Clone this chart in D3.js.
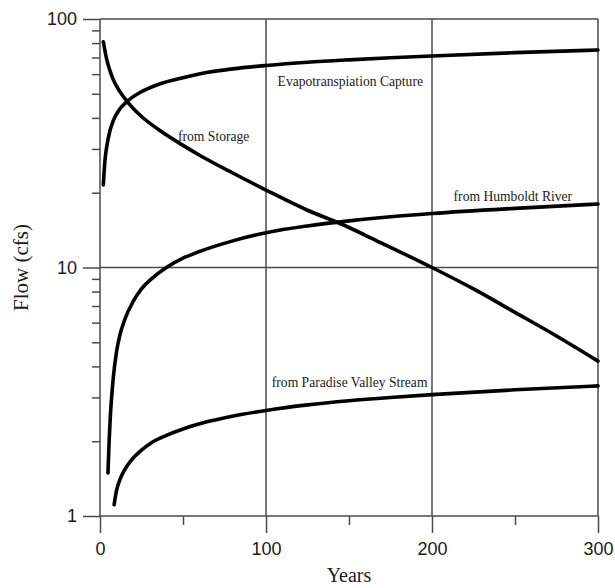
<!DOCTYPE html>
<html>
<head>
<meta charset="utf-8">
<script src="https://cdn.jsdelivr.net/npm/d3@7"></script>
<style>
  html, body { margin: 0; padding: 0; background: #fff; }
  svg { display: block; }
</style>
</head>
<body>
<svg id="chart" width="615" height="588"></svg>
<script>
// ---- Data ----
const storageYears = [2, 4, 6, 8, 12, 17, 25, 35, 50, 60, 80, 100, 125, 145, 170, 200, 225, 250, 275, 300];
const storageFlow  = [81, 69, 62, 57, 51, 46, 40.5, 36, 31, 28.3, 24, 20.5, 17, 15, 12.5, 10, 8.2, 6.6, 5.3, 4.2];

const etYears = [2, 3, 4, 6, 8, 12, 17, 25, 35, 50, 65, 80, 100, 125, 150, 175, 200, 250, 300];
const etFlow  = [21.5, 27, 30.5, 35.5, 39, 43.5, 47, 51, 54.5, 58, 61, 63, 65, 67, 68.5, 69.8, 71, 73.2, 75];

const humboldtYears = [4.8, 5.5, 6.2, 7, 8, 10, 12, 15, 20, 25, 31, 40, 50, 60, 80, 100, 125, 150, 175, 200, 250, 300];
const humboldtFlow  = [1.49, 2.0, 2.5, 3.0, 3.6, 4.6, 5.35, 6.2, 7.3, 8.2, 9.0, 10.0, 10.9, 11.6, 12.8, 13.8, 14.7, 15.4, 16.0, 16.5, 17.3, 18.0];

const paradiseYears = [8.5, 10, 12, 15, 19, 25, 31, 40, 50, 60, 70, 85, 100, 125, 150, 175, 200, 250, 300];
const paradiseFlow  = [1.11, 1.27, 1.40, 1.54, 1.68, 1.84, 1.97, 2.11, 2.24, 2.35, 2.44, 2.56, 2.66, 2.80, 2.91, 3.0, 3.08, 3.22, 3.34];

const seriesNames = ["Evapotranspiation Capture", "from Storage", "from Humboldt River", "from Paradise Valley Stream"];
const labelAnchors = [[107, 53.8], [47, 32.3], [213, 18.5], [103.5, 3.3]]; // [year, flow] at each label's start/baseline

const xMajorTicks = [0, 100, 200, 300];
const xMinorTicks = [50, 150, 250];
const yMajorTicks = [1, 10, 100];
const yMinorTicks = [2, 3, 4, 5, 6, 7, 8, 9, 20, 30, 40, 50, 60, 70, 80, 90];

// ---- Layout ----
const svg = d3.select("#chart");
const mLeft = 100, mRight = 598, mTop = 19, mBottom = 516;
const x = d3.scaleLinear().domain([0, 300]).range([mLeft, mRight]);
const y = d3.scaleLog().domain([1, 100]).range([mBottom, mTop]);

const gridColor = "#4a4a4a";
const tickFont = "'Liberation Sans', Arial, sans-serif";
const serifFont = "'Liberation Serif', 'Times New Roman', serif";

// grid lines (horizontal at decades, vertical at 100/200/300)
svg.append("g").selectAll("line").data(yMajorTicks).join("line")
  .attr("x1", mLeft).attr("x2", mRight)
  .attr("y1", d => y(d)).attr("y2", d => y(d))
  .attr("stroke", gridColor).attr("stroke-width", 1.5);
svg.append("g").selectAll("line").data(xMajorTicks).join("line")
  .attr("x1", d => x(d)).attr("x2", d => x(d))
  .attr("y1", mTop).attr("y2", mBottom)
  .attr("stroke", gridColor).attr("stroke-width", 1.5);

function styleAxis(g) {
  g.select(".domain").remove();
  g.selectAll("line").attr("stroke", gridColor).attr("stroke-width", 1.5);
  g.selectAll("text").attr("fill", "#1a1a1a").style("font-family", tickFont).style("font-size", "18px");
}

// y axis
svg.append("g").attr("transform", `translate(${mLeft},0)`)
  .call(d3.axisLeft(y).tickValues(yMinorTicks).tickSize(8).tickFormat(""))
  .call(styleAxis);
svg.append("g").attr("transform", `translate(${mLeft},0)`)
  .call(d3.axisLeft(y).tickValues(yMajorTicks).tickSize(17).tickPadding(6).tickFormat(d3.format("d")))
  .call(styleAxis);

// x axis
svg.append("g").attr("transform", `translate(0,${mBottom})`)
  .call(d3.axisBottom(x).tickValues(xMinorTicks).tickSize(9).tickFormat(""))
  .call(styleAxis);
svg.append("g").attr("transform", `translate(0,${mBottom})`)
  .call(d3.axisBottom(x).tickValues(xMajorTicks).tickSize(17).tickPadding(9).tickFormat(d3.format("d")))
  .call(styleAxis);

// curves
const line = d3.line().x(d => x(d[0])).y(d => y(d[1])).curve(d3.curveMonotoneX);
const series = [
  [etYears, etFlow],
  [storageYears, storageFlow],
  [humboldtYears, humboldtFlow],
  [paradiseYears, paradiseFlow]
];
svg.append("g").selectAll("path").data(series).join("path")
  .attr("d", s => line(d3.zip(s[0], s[1])))
  .attr("fill", "none")
  .attr("stroke", "#000")
  .attr("stroke-width", 3.6)
  .attr("stroke-linecap", "round")
  .attr("stroke-linejoin", "round");

// curve labels
svg.append("g").selectAll("text").data(seriesNames).join("text")
  .attr("x", (d, i) => x(labelAnchors[i][0]))
  .attr("y", (d, i) => y(labelAnchors[i][1]))
  .text(d => d)
  .style("font-family", serifFont)
  .style("font-size", "13.6px")
  .attr("fill", "#1a1a1a");

// axis titles
svg.append("text")
  .attr("x", (mLeft + mRight) / 2).attr("y", 582)
  .attr("text-anchor", "middle")
  .style("font-family", serifFont).style("font-size", "20px")
  .attr("fill", "#1a1a1a")
  .text("Years");
svg.append("text")
  .attr("transform", `translate(28,${(mTop + mBottom) / 2}) rotate(-90)`)
  .attr("text-anchor", "middle")
  .style("font-family", serifFont).style("font-size", "21px")
  .attr("fill", "#1a1a1a")
  .text("Flow (cfs)");
</script>
</body>
</html>
